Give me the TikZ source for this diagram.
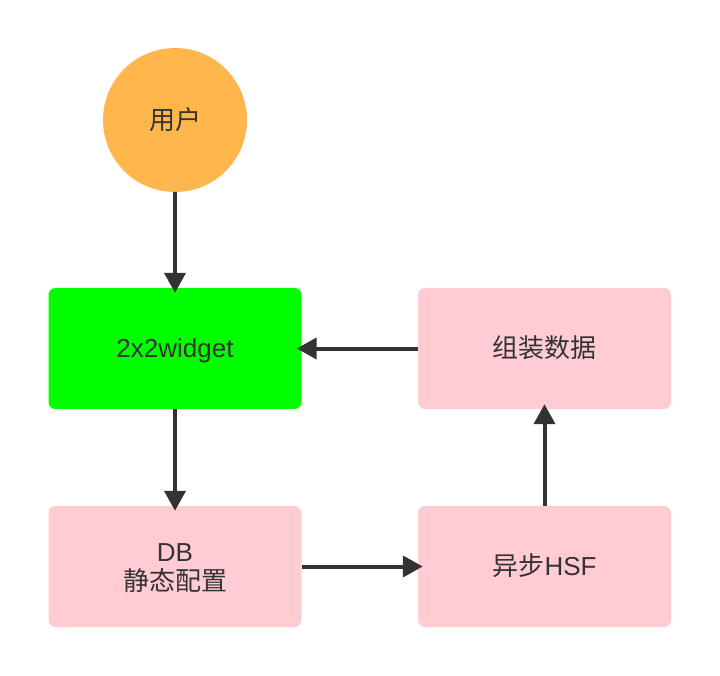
\documentclass[tikz,border=0pt]{standalone}
\usepackage{fontspec}
\setmainfont{Liberation Sans}
\newfontfamily\cjk{Noto Sans CJK SC}
\usetikzlibrary{arrows.meta}
\definecolor{usrorange}{HTML}{FFB64D}
\definecolor{boxpink}{HTML}{FFCCD3}
\definecolor{boxgreen}{HTML}{00FF00}
\definecolor{ink}{HTML}{333333}
\tikzset{
  label text/.style={text=ink, font=\fontsize{26pt}{29pt}\selectfont, align=center,
    text height=18.5pt, text depth=0pt},
  box/.style={rectangle, rounded corners=7pt, minimum width=253pt, minimum height=121pt,
    draw=none, label text, inner sep=0pt},
  pinkbox/.style={box, fill=boxpink},
  greenbox/.style={box, fill=boxgreen},
  twolines/.style={text height=47.5pt, text depth=0pt},
  usercircle/.style={circle, fill=usrorange, minimum size=144pt, inner sep=0pt, label text},
  conn/.style={draw=ink, line width=4pt, -{Triangle[width=21pt,length=20pt]}, shorten >=-5pt}
}
\begin{document}
\begin{tikzpicture}[x=1pt,y=-1pt]
\useasboundingbox (0,0) rectangle (720,676);
\node[usercircle] (user) at (175,120) {\cjk 用户};
\node[greenbox] (widget) at (175,348.5) {2x2widget};
\node[pinkbox] (zz) at (544.5,348.5) {\cjk 组装数据};
\node[pinkbox, twolines] (db) at (175,566.5) {DB\\{\cjk 静态配置}};
\node[pinkbox] (hsf) at (544.5,566.5) {{\cjk 异步}HSF};
\draw[conn] (user.south) -- (widget.north);
\draw[conn] (zz.west) -- (widget.east);
\draw[conn] (widget.south) -- (db.north);
\draw[conn] (db.east) -- (hsf.west);
\draw[conn] (hsf.north) -- (zz.south);
\end{tikzpicture}
\end{document}
